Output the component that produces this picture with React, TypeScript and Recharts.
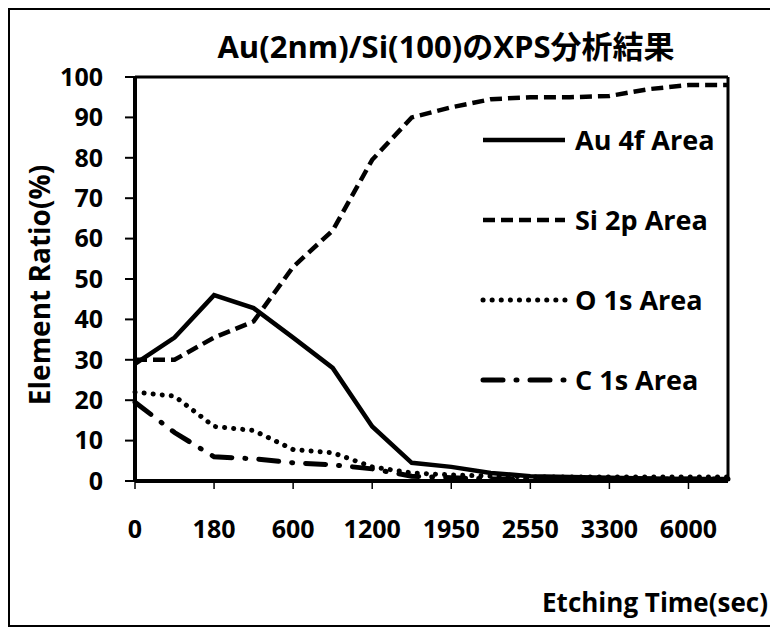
// XPS depth profile of Au(2nm)/Si(100): element ratio vs etching time
import { Line, LineChart, ReferenceLine, XAxis, YAxis } from "recharts";

const times = ["0", "60", "180", "360", "600", "900", "1200", "1500", "1950", "2250", "2550", "2850", "3300", "4500", "6000", "7200"];
const au4f = [29, 35.5, 46, 42.8, 35.5, 28, 13.5, 4.5, 3.5, 2, 1.2, 1, 0.8, 0.6, 0.5, 0.5];
const si2p = [30, 30, 35.5, 39.5, 53, 62, 79.5, 90, 92.5, 94.5, 95, 95, 95.3, 97, 98, 98];
const o1s = [22, 21, 13.5, 12.5, 7.8, 7, 3.5, 2, 1.5, 1.2, 1, 1, 1, 1, 1, 1];
const c1s = [19.5, 12, 6, 5.5, 4.5, 4, 3, 1.2, 0.8, 0.5, 0.5, 0.5, 0.5, 0.5, 0.5, 0.5];
const yTicks = [0, 10, 20, 30, 40, 50, 60, 70, 80, 90, 100];

const series = [
  { key: "au", name: "Au 4f Area", dash: undefined, width: 4.5, cap: "butt" },
  { key: "si", name: "Si 2p Area", dash: "12 6", width: 4.5, cap: "butt" },
  { key: "o", name: "O 1s Area", dash: "0.1 9", width: 5, cap: "round" },
  { key: "c", name: "C 1s Area", dash: "20 13 1 13", width: 5, cap: "round" },
] as const;

const data = times.map((t, i) => ({ t, au: au4f[i], si: si2p[i], o: o1s[i], c: c1s[i] }));

const font = "'Open Sans', 'Noto Sans CJK JP', sans-serif";

function LegendBox() {
  return (
    <svg width={260} height={330} style={{ position: "absolute", left: 470, top: 110 }}>
      {series.map((s, i) => {
        const y = 20 + i * 80;
        return (
          <g key={s.key}>
            <line x1={3} x2={85} y1={y} y2={y} stroke="#000" strokeWidth={s.width}
              strokeDasharray={s.dash} strokeLinecap={s.cap} />
            <text x={95} y={y} dy="0.36em" fontSize={27} fontWeight={700} fontFamily={font}>{s.name}</text>
          </g>
        );
      })}
    </svg>
  );
}

export default function App() {
  const tick = { fill: "#000", fontSize: 25, fontWeight: 700, fontFamily: font };
  return (
    <div style={{ width: 762, height: 615, border: "2px solid #000", position: "relative", background: "#fff" }}>
      <div style={{ position: "absolute", left: 0, right: 0, top: 12, textAlign: "center", paddingLeft: 110,
        fontSize: 31, fontWeight: 700, fontFamily: font }}>
        Au(2nm)/Si(100)のXPS分析結果
      </div>
      <div style={{ position: "absolute", left: 29, top: 275, transform: "translate(-50%,-50%) rotate(-90deg)",
        whiteSpace: "nowrap", fontSize: 28, fontWeight: 700, fontFamily: font }}>
        Element Ratio(%)
      </div>
      <div style={{ position: "absolute", right: 4, top: 574, fontSize: 26, fontWeight: 700, fontFamily: font }}>
        Etching Time(sec)
      </div>
      <LineChart width={762} height={615} data={data} margin={{ top: 67, right: 44, bottom: 134, left: 0 }}>
        <XAxis dataKey="t" interval={1} tick={tick} tickSize={8} tickMargin={31} height={10}
          axisLine={{ stroke: "#000", strokeWidth: 4 }} tickLine={{ stroke: "#000", strokeWidth: 1.5 }} />
        <YAxis domain={[0, 100]} ticks={yTicks} width={125} tick={tick} tickSize={10} tickMargin={22}
          axisLine={{ stroke: "#000", strokeWidth: 4 }} tickLine={{ stroke: "#000", strokeWidth: 2 }} />
        <ReferenceLine y={100} stroke="#000" strokeWidth={3} />
        <ReferenceLine x="7200" stroke="#000" strokeWidth={3} />
        {series.map((s) => (
          <Line key={s.key} dataKey={s.key} name={s.name} stroke="#000" strokeWidth={s.width}
            strokeDasharray={s.dash} strokeLinecap={s.cap} dot={false} isAnimationActive={false} />
        ))}
      </LineChart>
      <LegendBox />
    </div>
  );
}
